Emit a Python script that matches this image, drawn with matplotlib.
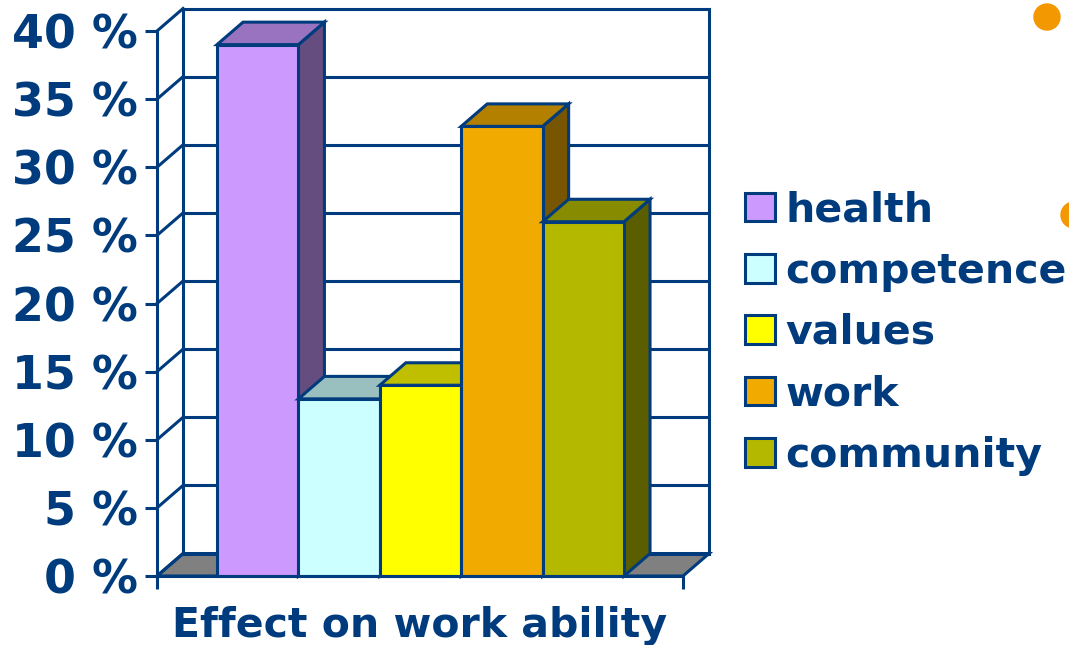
import numpy as np
import matplotlib
matplotlib.use('Agg')
import matplotlib.pyplot as plt
from matplotlib.patches import Polygon, Patch, Ellipse
from matplotlib.colors import to_rgb


categories = ['health', 'competence', 'values', 'work', 'community']
values = [39, 13, 14, 33, 26]  # percent
colors = ['#CC99FF', '#CCFFFF', '#FFFF00', '#F0AA00', '#B4B900']
yticks = [0, 5, 10, 15, 20, 25, 30, 35, 40]
ytick_labels = ['%d %%' % t for t in yticks]
xlabel = 'Effect on work ability'

navy = '#003C7D'
lw = 2.2
plt.rcParams['font.family'] = ['DejaVu Sans']
plt.rcParams['font.weight'] = 'bold'


def shade(c, f):
    r, g, b = to_rgb(c)
    return (r * f, g * f, b * f)


fig = plt.figure(figsize=(10.69, 6.45), dpi=100)
# front plane of the 3d box
ax = fig.add_axes([157 / 1069, 69 / 645, 526 / 1069, 545 / 645])

x0, x1 = -1.237, 5.225   # front floor ends
dx, dy = 0.32, 1.65      # depth offset (x units, percent)
ax.set_xlim(x0, x1)
ax.set_ylim(0, 40)

# floor
floor = Polygon([(x0, 0), (x1, 0), (x1 + dx, dy), (x0 + dx, dy)], closed=True,
                facecolor='#808080', edgecolor=navy, lw=lw, zorder=1, clip_on=False)
ax.add_patch(floor)

# back wall + left wall gridlines
for t in yticks:
    ax.plot([x0 + dx, x1 + dx], [t + dy, t + dy], color=navy, lw=lw, zorder=1.5,
            clip_on=False, solid_capstyle='projecting')
    ax.plot([x0, x0 + dx], [t, t + dy], color=navy, lw=lw, zorder=1.5, clip_on=False)
ax.plot([x0 + dx, x0 + dx], [dy, 40 + dy], color=navy, lw=lw, zorder=1.5, clip_on=False)
ax.plot([x1 + dx, x1 + dx], [dy, 40 + dy], color=navy, lw=lw, zorder=1.5, clip_on=False)

# bars, drawn left to right so each front hides the side before it
for i, (v, c) in enumerate(zip(values, colors)):
    z = 3 + 2 * i
    top = Polygon([(i - 0.5, v), (i + 0.5, v), (i + 0.5 + dx, v + dy), (i - 0.5 + dx, v + dy)],
                  closed=True, facecolor=shade(c, 0.75), edgecolor=navy, lw=lw,
                  joinstyle='miter', zorder=z, clip_on=False)
    side = Polygon([(i + 0.5, 0), (i + 0.5 + dx, dy), (i + 0.5 + dx, v + dy), (i + 0.5, v)],
                   closed=True, facecolor=shade(c, 0.5), edgecolor=navy, lw=lw,
                   joinstyle='miter', zorder=z, clip_on=False)
    ax.add_patch(side)
    ax.add_patch(top)
    ax.bar(i, v, width=1, color=c, edgecolor=navy, linewidth=lw, zorder=z + 1,
           clip_on=False)

for s in ['top', 'right']:
    ax.spines[s].set_visible(False)
for s in ['left', 'bottom']:
    ax.spines[s].set_color(navy)
    ax.spines[s].set_linewidth(lw)
    ax.spines[s].set_zorder(20)

ax.set_yticks(yticks)
ax.set_yticklabels(ytick_labels)
ax.tick_params(axis='y', length=9, width=lw, color=navy, pad=5, labelsize=33,
               labelcolor=navy)
ax.set_xticks([x0, x1])
ax.set_xticklabels(['', ''])
ax.tick_params(axis='x', length=9, width=lw, color=navy)
ax.set_xlabel(xlabel, fontsize=29.5, color=navy, fontweight='bold', labelpad=9)

handles = [Patch(facecolor=c, edgecolor=navy, linewidth=lw) for c in colors]
fig.legend(handles, categories, loc='center left', bbox_to_anchor=(745 / 1069, 1 - 333 / 645),
           frameon=False, fontsize=29.5, labelcolor=navy, handlelength=0.72,
           handleheight=0.7, handletextpad=0.27, labelspacing=0.52, borderpad=0,
           borderaxespad=0)

# orange bullets at the page edge
for cx, cy in [(1047, 17), (1074, 215)]:
    fig.add_artist(Ellipse((cx / 1069, 1 - cy / 645), 26 / 1069, 26 / 645,
                           color='#F39800', transform=fig.transFigure))

fig.savefig('out.png', dpi=100)
